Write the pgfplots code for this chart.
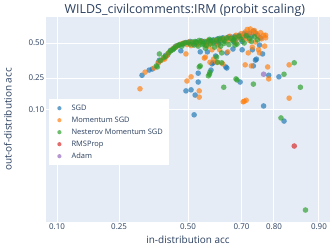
\documentclass[border=0pt]{standalone}
\usepackage{pgfplots}
\pgfplotsset{compat=1.18}
\usepackage{fontspec}
\setmainfont{Open Sans}
\definecolor{bgcol}{HTML}{E5ECF6}
\definecolor{txt}{HTML}{2A3F5F}
\definecolor{cSGD}{HTML}{1F77B4}
\definecolor{cMom}{HTML}{FF7F0E}
\definecolor{cNes}{HTML}{2CA02C}
\definecolor{cRMS}{HTML}{D62728}
\definecolor{cAdam}{HTML}{9467BD}
\begin{document}
\begin{tikzpicture}
\useasboundingbox (0,0) rectangle (332bp,251bp);
\begin{axis}[
  at={(46bp,29bp)}, anchor=south west,
  scale only axis, width=284bp, height=205bp,
  xmin=-1.39, xmax=1.39, ymin=-3.44, ymax=0.50,
  axis background/.style={fill=bgcol},
  axis line style={draw=none},
  major tick style={draw=none},
  grid=major, major grid style={white, line width=1bp},
  xtick={-1.2816,-0.6745,0,0.5244,0.8416,1.2816},
  xticklabels={0.10,0.25,0.50,0.70,0.80,0.90},
  ytick={-1.2816,-0.6745,0},
  yticklabels={0.10,0.25,0.50},
  /pgf/number format/assume math mode=true,
  ticklabel style={font=\fontsize{8}{9}\selectfont, text=txt},
  xticklabel style={inner ysep=2bp},
  yticklabel style={inner xsep=1.5bp},
  xlabel={in-distribution acc},
  ylabel={out-of-distribution acc},
  label style={font=\fontsize{10}{12}\selectfont, text=txt},
  xlabel style={at={(axis description cs:0.5,-0.088)}, anchor=center},
  ylabel style={at={(axis description cs:-0.134,0.5)}, anchor=center, rotate=0},
  every axis title shift=0pt,
  title={WILDS\_civilcomments:IRM (probit scaling)},
  title style={at={(axis description cs:0.489,1.034)}, anchor=center, font=\fontsize{12.5}{14}\selectfont, text=txt},
  clip=false,
  legend cell align=left,
  legend style={at={(axis description cs:0.0106,0.60)}, anchor=north west,
    fill=white, draw=none, inner xsep=4bp, inner ysep=3bp,
    font=\fontsize{7.5}{9}\selectfont, text=txt,
    nodes={inner xsep=2bp, inner ysep=2bp, text height=6bp, text depth=2bp},
    row sep=0bp},
  legend image code/.code={\path (0bp,0bp) (16bp,0bp); \draw[#1, mark size=2.1bp] plot coordinates {(6bp,0bp)};},
  every axis plot/.append style={only marks, mark=*, mark size=2.8bp, fill opacity=0.68, draw opacity=0},
]
\addplot[cSGD, mark options={fill=cSGD}] table {
-0.45 -0.62
-0.38 -0.52
-0.35 -0.50
-0.29 -0.37
-0.28 -0.33
-0.22 -0.24
-0.20 -0.23
-0.17 -0.14
-0.14 -0.11
-0.12 -0.06
-0.09 -0.04
-0.07 -0.15
-0.05 -0.02
-0.02 0.01
0.02 0.03
0.05 -0.02
0.07 -0.01
0.08 0.02
0.12 -0.17
0.13 0.04
0.14 0.03
0.17 0.01
0.18 0.00
0.19 -0.17
0.21 0.03
0.22 0.05
0.245 -0.38
0.235 -0.40
0.225 -0.52
0.25 0.06
0.26 0.02
0.27 -0.25
0.28 0.02
0.29 0.08
0.30 -0.02
0.31 0.04
0.32 0.07
0.34 0.10
0.35 0.05
0.37 -0.46
0.38 -0.48
0.38 -0.19
0.39 0.09
0.40 0.12
0.43 0.11
0.44 -0.115
0.45 0.02
0.46 0.13
0.47 0.08
0.50 0.15
0.51 0.14
0.53 -0.13
0.53 0.03
0.54 0.10
0.55 0.18
0.57 0.17
0.58 0.14
0.60 0.19
0.62 0.13
0.63 -0.13
0.64 0.23
0.64 -0.44
0.66 0.19
0.66 -0.33
0.67 -0.31
0.68 0.15
0.70 -0.04
0.71 0.10
0.73 -0.21
0.79 -0.62
0.89 -0.65
0.10 -0.58
0.10 -0.75
0.51 -0.75
-0.02 -0.92
0.03 -0.90
0.07 -1.00
0.74 -1.21
0.06 -1.38
0.94 -1.50
};
\addlegendentry{SGD}
\addplot[cMom, mark options={fill=cMom}] table {
-0.47 -0.88
-0.42 -0.56
-0.33 -0.48
-0.29 -0.38
-0.26 -0.33
-0.23 -0.31
-0.23 -0.29
-0.21 -0.25
-0.20 -0.21
-0.18 -0.17
-0.16 -0.13
-0.13 -0.09
-0.11 -0.06
-0.07 -0.02
-0.04 0.00
-0.02 -0.21
-0.01 -0.03
0.01 0.02
0.03 -0.05
0.05 0.01
0.09 -0.03
0.10 0.00
0.13 0.03
0.16 -0.29
0.17 -0.27
0.17 -0.04
0.19 0.04
0.20 -0.06
0.215 -0.37
0.235 -0.13
0.23 0.00
0.25 -0.31
0.27 0.05
0.28 -0.37
0.29 -0.04
0.31 -0.13
0.33 0.06
0.34 -0.40
0.36 0.09
0.39 0.04
0.39 -0.17
0.41 0.13
0.43 0.07
0.47 0.15
0.47 0.00
0.49 0.10
0.52 0.18
0.54 0.13
0.56 0.21
0.56 0.08
0.56 -0.42
0.58 0.26
0.59 0.17
0.59 -0.19
0.60 0.05
0.61 0.27
0.62 -0.44
0.63 0.21
0.63 -0.08
0.65 0.24
0.66 0.02
0.67 0.18
0.69 0.12
0.69 -0.13
0.70 -0.19
0.71 0.20
0.72 0.08
0.74 0.15
0.75 -0.06
0.76 0.15
0.76 0.10
0.78 -0.46
0.79 -0.69
0.03 -0.65
-0.01 -0.73
0.11 -0.92
0.11 -1.04
0.54 -1.13
0.55 -1.12
0.57 -1.10
0.99 -0.42
0.99 -1.06
};
\addlegendentry{Momentum SGD}
\addplot[cNes, mark options={fill=cNes}] table {
-0.31 -0.44
-0.30 -0.46
-0.28 -0.21
-0.27 -0.34
-0.24 -0.28
-0.22 -0.26
-0.19 -0.19
-0.17 -0.15
-0.15 -0.13
-0.14 -0.10
-0.12 -0.08
-0.10 -0.05
-0.08 -0.03
-0.06 -0.06
-0.05 -0.01
-0.03 0.00
0.00 0.01
0.02 -0.02
0.04 0.02
0.06 -0.04
0.07 0.03
0.08 0.01
0.10 -0.06
0.11 0.05
0.11 -0.46
0.12 0.02
0.12 -0.44
0.14 -0.03
0.15 -0.01
0.16 0.03
0.17 -0.10
0.18 -0.05
0.20 0.04
0.20 -0.63
0.21 -0.60
0.215 -0.56
0.21 0.07
0.22 -0.02
0.24 0.05
0.25 0.00
0.26 -0.08
0.28 0.06
0.28 -0.27
0.29 -0.37
0.30 0.02
0.31 0.09
0.32 -0.06
0.33 -0.38
0.33 -0.19
0.34 0.08
0.35 -0.01
0.35 -0.85
0.36 0.03
0.38 0.10
0.40 -0.03
0.42 0.09
0.44 0.04
0.45 0.06
0.46 0.11
0.46 -0.04
0.47 -0.69
0.48 -0.71
0.48 -0.02
0.50 0.13
0.52 0.07
0.55 0.00
0.57 0.14
0.60 0.09
0.62 0.03
0.64 -0.79
0.65 0.12
0.68 0.06
0.91 -1.44
0.94 -0.60
1.04 -0.38
1.10 -0.85
1.15 -3.21
};
\addlegendentry{Nesterov Momentum SGD}
\addplot[cRMS, mark options={fill=cRMS}] table {
1.04 -1.98
};
\addlegendentry{RMSProp}
\addplot[cAdam, mark options={fill=cAdam}] table {
0.74 -0.60
};
\addlegendentry{Adam}
\end{axis}
\end{tikzpicture}
\end{document}
